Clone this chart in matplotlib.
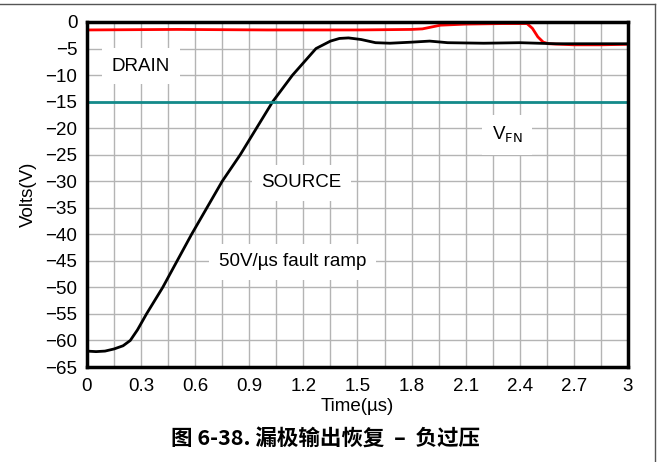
import matplotlib.pyplot as plt
import numpy as np

plt.rcParams['font.family'] = ['Liberation Sans', 'DejaVu Sans']

# source (black) trace
src_t = [0.0, 0.05, 0.10, 0.15, 0.20, 0.24, 0.28, 0.33, 0.42, 0.50, 0.58, 0.75, 0.85,
         0.94, 1.03, 1.14, 1.27, 1.35, 1.40, 1.45, 1.52, 1.60, 1.68, 1.80, 1.90,
         2.00, 2.20, 2.40, 2.60, 2.80, 3.0]
src_v = [-62.0, -62.1, -62.0, -61.6, -61.0, -60.0, -58.0, -55.0, -50.0, -45.0, -40.0,
         -30.0, -25.0, -20.0, -15.0, -10.0, -5.0, -3.6, -3.1, -3.0, -3.3, -3.9, -4.0,
         -3.8, -3.6, -3.9, -4.0, -3.9, -4.1, -4.1, -4.1]

# drain (red) trace
drn_t = [0.0, 0.5, 1.0, 1.5, 1.80, 1.86, 1.96, 2.10, 2.30, 2.44, 2.47, 2.50, 2.53,
         2.56, 2.70, 2.85, 3.0]
drn_v = [-1.5, -1.4, -1.5, -1.5, -1.4, -1.3, -0.6, -0.4, -0.3, -0.3, -1.2, -2.8, -3.8,
         -4.1, -4.3, -4.3, -4.2]

vfn = -15

fig = plt.figure(figsize=(6.58, 4.62), dpi=100)
ax = fig.add_axes([0.1322, 0.2056, 0.8222, 0.7468])

ax.plot(drn_t, drn_v, color='#ff0000', lw=2)
ax.plot(src_t, src_v, color='black', lw=2)
ax.axhline(vfn, color='#138a8a', lw=2)

ax.set_xlim(0, 3)
ax.set_ylim(-65, 0)
ax.set_xticks(np.arange(0, 3.01, 0.3))
ax.set_xticklabels(['0', '0.3', '0.6', '0.9', '1.2', '1.5', '1.8', '2.1', '2.4', '2.7', '3'])
ax.set_xticks(np.arange(0, 3.01, 0.15), minor=True)
ax.set_yticks(np.arange(-65, 1, 5))
ax.grid(True, which='both', color='#b4b4b4', lw=1)
ax.set_axisbelow(True)
ax.tick_params(which='both', length=0, labelsize=13.5)
ax.tick_params(axis='y', pad=7)
ax.tick_params(axis='x', pad=8)
for s in ax.spines.values():
    s.set_linewidth(2.5)

box = dict(facecolor='white', edgecolor='none', pad=7)
ax.text(0.30, -8.3, 'DRAIN', fontsize=13.5, ha='center', va='center', bbox=box)
ax.text(1.19, -30.3, 'SOURCE', fontsize=13.5, ha='center', va='center', bbox=box)
ax.text(2.33, -21.3, r'V$_{\rm FN}$', fontsize=13.5, ha='center', va='center', bbox=box)
ax.text(1.14, -45.2, '50V/\u00b5s fault ramp', fontsize=13.5, ha='center', va='center', bbox=box)

ax.set_ylabel('Volts(V)', fontsize=13.5, labelpad=6)
ax.set_xlabel('Time(\u00b5s)', fontsize=13.5, labelpad=2)

fig.text(0.494, 0.052, '图 6-38. 漏极输出恢复  \u2013  负过压', fontsize=15.5, fontweight='bold',
         ha='center', va='center', family=['Noto Sans CJK SC', 'DejaVu Sans'])

# frame lines at top and right
fig.add_artist(plt.Line2D([0, 0.996], [0.992, 0.992], color='#555555', lw=1))
fig.add_artist(plt.Line2D([0.996, 0.996], [0.0, 0.992], color='#555555', lw=1))

fig.savefig('out.png', dpi=100)
